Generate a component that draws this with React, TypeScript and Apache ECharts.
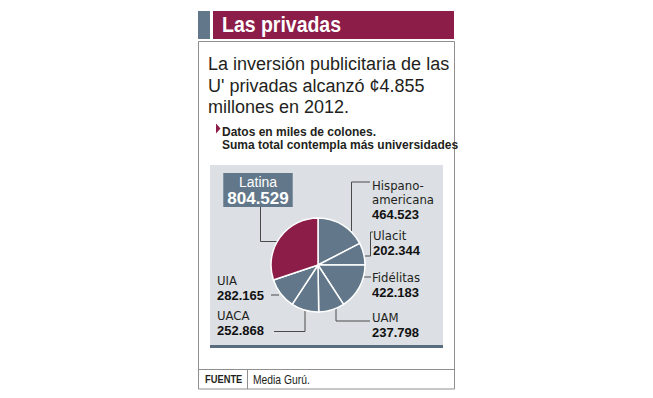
import React, { useEffect, useRef } from 'react';
import * as echarts from 'echarts';

// ---- data ----
const categories = ['Hispano-\namericana', 'Ulacit', 'Fidélitas', 'UAM', 'UACA', 'UIA', 'Latina'];
const values = [464523, 202344, 422183, 237798, 252868, 282165, 804529];
const highlighted = 'Latina';

const titleText = 'Las privadas';
const subtitleLines = ['La inversión publicitaria de las', "U' privadas alcanzó ¢4.855", 'millones en 2012.'];
const noteLines = ['Datos en miles de colones.', 'Suma total contempla más universidades.'];
const sourceLabel = 'FUENTE';
const sourceText = 'Media Gurú.';

// ---- styles ----
const RED = '#8c1c48';
const SLATE = '#62788a';
const PANEL = '#dcdfe4';
const INK = '#231f20';
const NARROW = "'Liberation Sans Narrow', 'DejaVu Sans Condensed', 'Liberation Sans', sans-serif";
const SANS = "'Liberation Sans', Arial, sans-serif";

const fmt = (v: number) => String(v).replace(/\B(?=(\d{3})+(?!\d))/g, '.');

// label placement (layout only), indexed like categories
const labelPlacement: any[] = [
  { x: 372, y: 178, align: 'left', line: [[351.5, 231], [351.5, 182], [370, 182]] },
  { x: 373, y: 228, align: 'left', line: [[364, 256], [370.5, 256], [370.5, 232], [373, 232]] },
  { x: 372, y: 270.5, align: 'left', line: [[363, 277], [371, 277]] },
  { x: 372, y: 310, align: 'left', line: [[336, 308], [336, 321], [370, 321]] },
  { x: 217, y: 308, align: 'left', line: [[305, 310], [305, 331.5], [274, 331.5]] },
  { x: 217, y: 273, align: 'left', line: [[271, 295], [279, 295]] },
  { x: 258, y: 173, align: 'center', line: [[260.5, 207], [260.5, 241.5], [277, 241.5]] },
];

export default function App() {
  const ref = useRef<HTMLDivElement>(null);
  useEffect(() => {
    if (!ref.current) return;
    const chart = echarts.init(ref.current, undefined, { renderer: 'svg' });

    const data = categories.map((name, i) => {
      const isHi = name === highlighted;
      return {
        name,
        value: values[i],
        itemStyle: { color: isHi ? RED : SLATE },
        label: isHi ? { backgroundColor: SLATE, padding: [1, 4, 0, 4] } : {},
      };
    });

    const option: any = {
      animation: false,
      backgroundColor: '#ffffff',
      graphic: [
        // title bar
        { type: 'rect', shape: { x: 198, y: 11, width: 12, height: 28 }, style: { fill: SLATE }, silent: true },
        { type: 'rect', shape: { x: 213, y: 11, width: 241, height: 28 }, style: { fill: RED }, silent: true },
        {
          type: 'text', x: 222, y: 24.5, scaleX: 0.885, silent: true,
          style: { text: titleText, fill: '#fff', font: `bold 22px ${SANS}`, verticalAlign: 'middle', align: 'left' },
        },
        // outer box
        {
          type: 'rect', shape: { x: 198.5, y: 41.5, width: 256, height: 347.5 },
          style: { fill: 'none', stroke: '#8f8f8f', lineWidth: 1 }, silent: true,
        },
        {
          type: 'text', x: 208, y: 53.5, silent: true,
          style: {
            text: subtitleLines.join('\n'), fill: INK, font: `18px ${SANS}`,
            lineHeight: 21.5, verticalAlign: 'top', align: 'left',
          },
        },
        // bullet
        {
          type: 'polygon', shape: { points: [[216, 123.5], [220.5, 128.5], [216, 133.5]] },
          style: { fill: RED }, silent: true,
        },
        {
          type: 'text', x: 222, y: 125.3, silent: true,
          style: {
            text: noteLines.join('\n'), fill: INK, font: `bold 12px ${SANS}`,
            lineHeight: 13, verticalAlign: 'top', align: 'left',
            width: 240, overflow: 'truncate', ellipsis: '',
          },
        },
        // chart panel
        { type: 'rect', shape: { x: 210, y: 165, width: 233, height: 183 }, style: { fill: PANEL }, silent: true },
        { type: 'rect', shape: { x: 210, y: 345, width: 233, height: 3 }, style: { fill: '#5a6d7e' }, silent: true },
        // source row
        { type: 'line', shape: { x1: 198.5, y1: 369.5, x2: 454.5, y2: 369.5 }, style: { stroke: '#8f8f8f', lineWidth: 1 }, silent: true },
        { type: 'line', shape: { x1: 247.5, y1: 369.5, x2: 247.5, y2: 389 }, style: { stroke: '#8f8f8f', lineWidth: 1 }, silent: true },
        {
          type: 'text', x: 205, y: 379.5, scaleX: 0.85, silent: true,
          style: { text: sourceLabel, fill: INK, font: `bold 11px ${SANS}`, verticalAlign: 'middle' },
        },
        {
          type: 'text', x: 253, y: 379.5, scaleX: 0.86, silent: true,
          style: { text: sourceText, fill: INK, font: `12px ${SANS}`, verticalAlign: 'middle' },
        },
      ],
      series: [
        {
          type: 'pie',
          silent: true,
          center: [318, 265],
          radius: 47,
          startAngle: 90,
          clockwise: true,
          avoidLabelOverlap: false,
          itemStyle: { borderColor: '#ffffff', borderWidth: 1.5 },
          emphasis: { disabled: true },
          data,
          label: {
            show: true,
            position: 'outside',
            formatter: (p: any) => {
              if (p.name === highlighted) return `{n2|${p.name}}\n{v2|${fmt(p.value)}}`;
              const nameLines = String(p.name).split('\n').map((s) => `{n|${s}}`).join('\n');
              return `${nameLines}\n{v|${fmt(p.value)}}`;
            },
            rich: {
              n: { fontFamily: NARROW, fontSize: 13, lineHeight: 14, color: INK },
              v: { fontFamily: SANS, fontSize: 13, fontWeight: 'bold', lineHeight: 16, color: '#111' },
              n2: { fontFamily: SANS, fontSize: 14, lineHeight: 15, color: '#fff', align: 'center' },
              v2: { fontFamily: SANS, fontSize: 17, fontWeight: 'bold', lineHeight: 18, color: '#fff', align: 'center' },
            },
          },
          labelLine: { show: true, lineStyle: { color: '#4a4a4a', width: 1 } },
          labelLayout: (params: any) => {
            const p = labelPlacement[params.dataIndex];
            return { x: p.x, y: p.y, align: p.align, verticalAlign: 'top', labelLinePoints: p.line };
          },
        },
      ],
    };
    chart.setOption(option);
    return () => chart.dispose();
  }, []);
  return <div ref={ref} style={{ position: 'fixed', left: 0, top: 0, width: 653, height: 398 }} />;
}
